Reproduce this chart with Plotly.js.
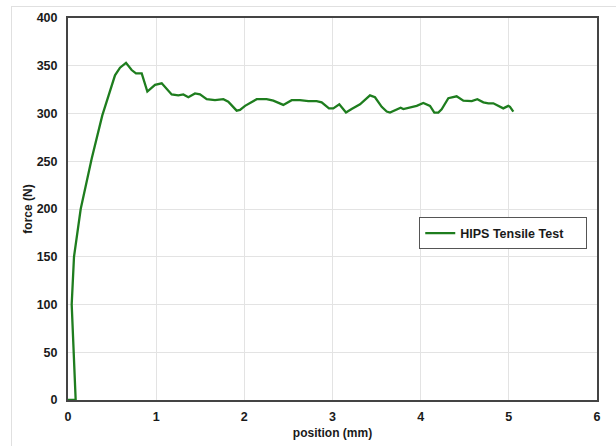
<!DOCTYPE html>
<html>
<head>
<meta charset="utf-8">
<script src="https://cdn.plot.ly/plotly-3.0.1.min.js"></script>
<style>
html,body{margin:0;padding:0;background:#fff;overflow:hidden;}
#wrap{position:relative;width:616px;height:446px;overflow:hidden;}
#chart{width:616px;height:446px;}
#frame{position:absolute;left:11px;top:6px;width:640px;height:460px;border:1px solid #e0e0e0;pointer-events:none;}
</style>
</head>
<body>
<div id="wrap"><div id="chart"></div><div id="frame"></div></div>
<script>
const seriesName = "HIPS Tensile Test";
const position = [0, 0.087, 0.042, 0.068, 0.144, 0.269, 0.389, 0.457, 0.533, 0.590, 0.658, 0.722, 0.771, 0.836, 0.900, 0.987, 1.063, 1.176, 1.251, 1.308, 1.365, 1.440, 1.497, 1.573, 1.667, 1.762, 1.818, 1.913, 1.951, 2.008, 2.064, 2.140, 2.253, 2.329, 2.442, 2.537, 2.631, 2.726, 2.820, 2.877, 2.960, 3.009, 3.077, 3.153, 3.217, 3.312, 3.425, 3.482, 3.558, 3.615, 3.652, 3.728, 3.773, 3.803, 3.879, 3.955, 4.030, 4.106, 4.155, 4.200, 4.238, 4.314, 4.408, 4.484, 4.579, 4.643, 4.711, 4.768, 4.824, 4.937, 4.994, 5.013, 5.051];
const force = [0, 0, 100, 150, 200, 253, 298, 319, 340, 348, 353, 345.5, 342, 342, 323, 330, 331.6, 320, 319, 320, 317, 321, 320, 315, 314, 315, 312.4, 303, 303.7, 308, 310.7, 315, 315, 313.4, 309, 314, 314, 313, 313, 311.7, 305.4, 305.4, 309.6, 301, 304.7, 309.6, 319, 317, 307, 302, 301, 304.4, 306, 304.7, 306.5, 308, 311, 308, 301, 301, 304.4, 316, 318, 313.4, 313, 315, 311.7, 310.7, 310.7, 305.4, 308, 307, 302];
const xTicks = [0, 1, 2, 3, 4, 5, 6];
const yTicks = [0, 50, 100, 150, 200, 250, 300, 350, 400];

const tickFont = {family: "Liberation Sans, Arial, sans-serif", size: 12.5, color: "#1a1a1a", weight: "bold"};
const titleFont = {family: "Liberation Sans, Arial, sans-serif", size: 12, color: "#1a1a1a", weight: "bold"};

const trace = {
  x: position, y: force, type: "scatter", mode: "lines",
  name: seriesName + "\u00a0\u00a0\u00a0\u00a0\u00a0",
  line: {color: "#1e7d1e", width: 2.3}, showlegend: true
};

const layout = {
  width: 616, height: 446,
  margin: {l: 68, r: 19, t: 18, b: 46, pad: 0},
  paper_bgcolor: "#ffffff", plot_bgcolor: "#ffffff",
  xaxis: {
    range: [0, 6], tickvals: xTicks, ticktext: xTicks.map(String), automargin: false,
    showgrid: true, gridcolor: "#e3e3e3", gridwidth: 1, zeroline: false,
    showline: true, linecolor: "#444444", linewidth: 2, mirror: true,
    ticks: "", ticklabelstandoff: 4, tickfont: tickFont,
    title: {text: "position (mm)", font: titleFont, standoff: 6}
  },
  yaxis: {
    range: [0, 400], tickvals: yTicks, ticktext: yTicks.map(String), automargin: false,
    showgrid: true, gridcolor: "#e3e3e3", gridwidth: 1, zeroline: false,
    showline: true, linecolor: "#444444", linewidth: 2, mirror: true,
    ticks: "", ticklabelstandoff: 6, tickfont: tickFont,
    title: {text: "force (N)", font: titleFont}
  },
  showlegend: true,
  legend: {
    x: 0.664, y: 0.478, xanchor: "left", yanchor: "top",
    bgcolor: "#ffffff", bordercolor: "#555555", borderwidth: 1,
    font: {family: "Liberation Sans, Arial, sans-serif", size: 12.5, color: "#1a1a1a", weight: "bold"},
    tracegroupgap: 0
  }
};

Plotly.newPlot("chart", [trace], layout, {displayModeBar: false, staticPlot: true});
</script>
</body>
</html>
